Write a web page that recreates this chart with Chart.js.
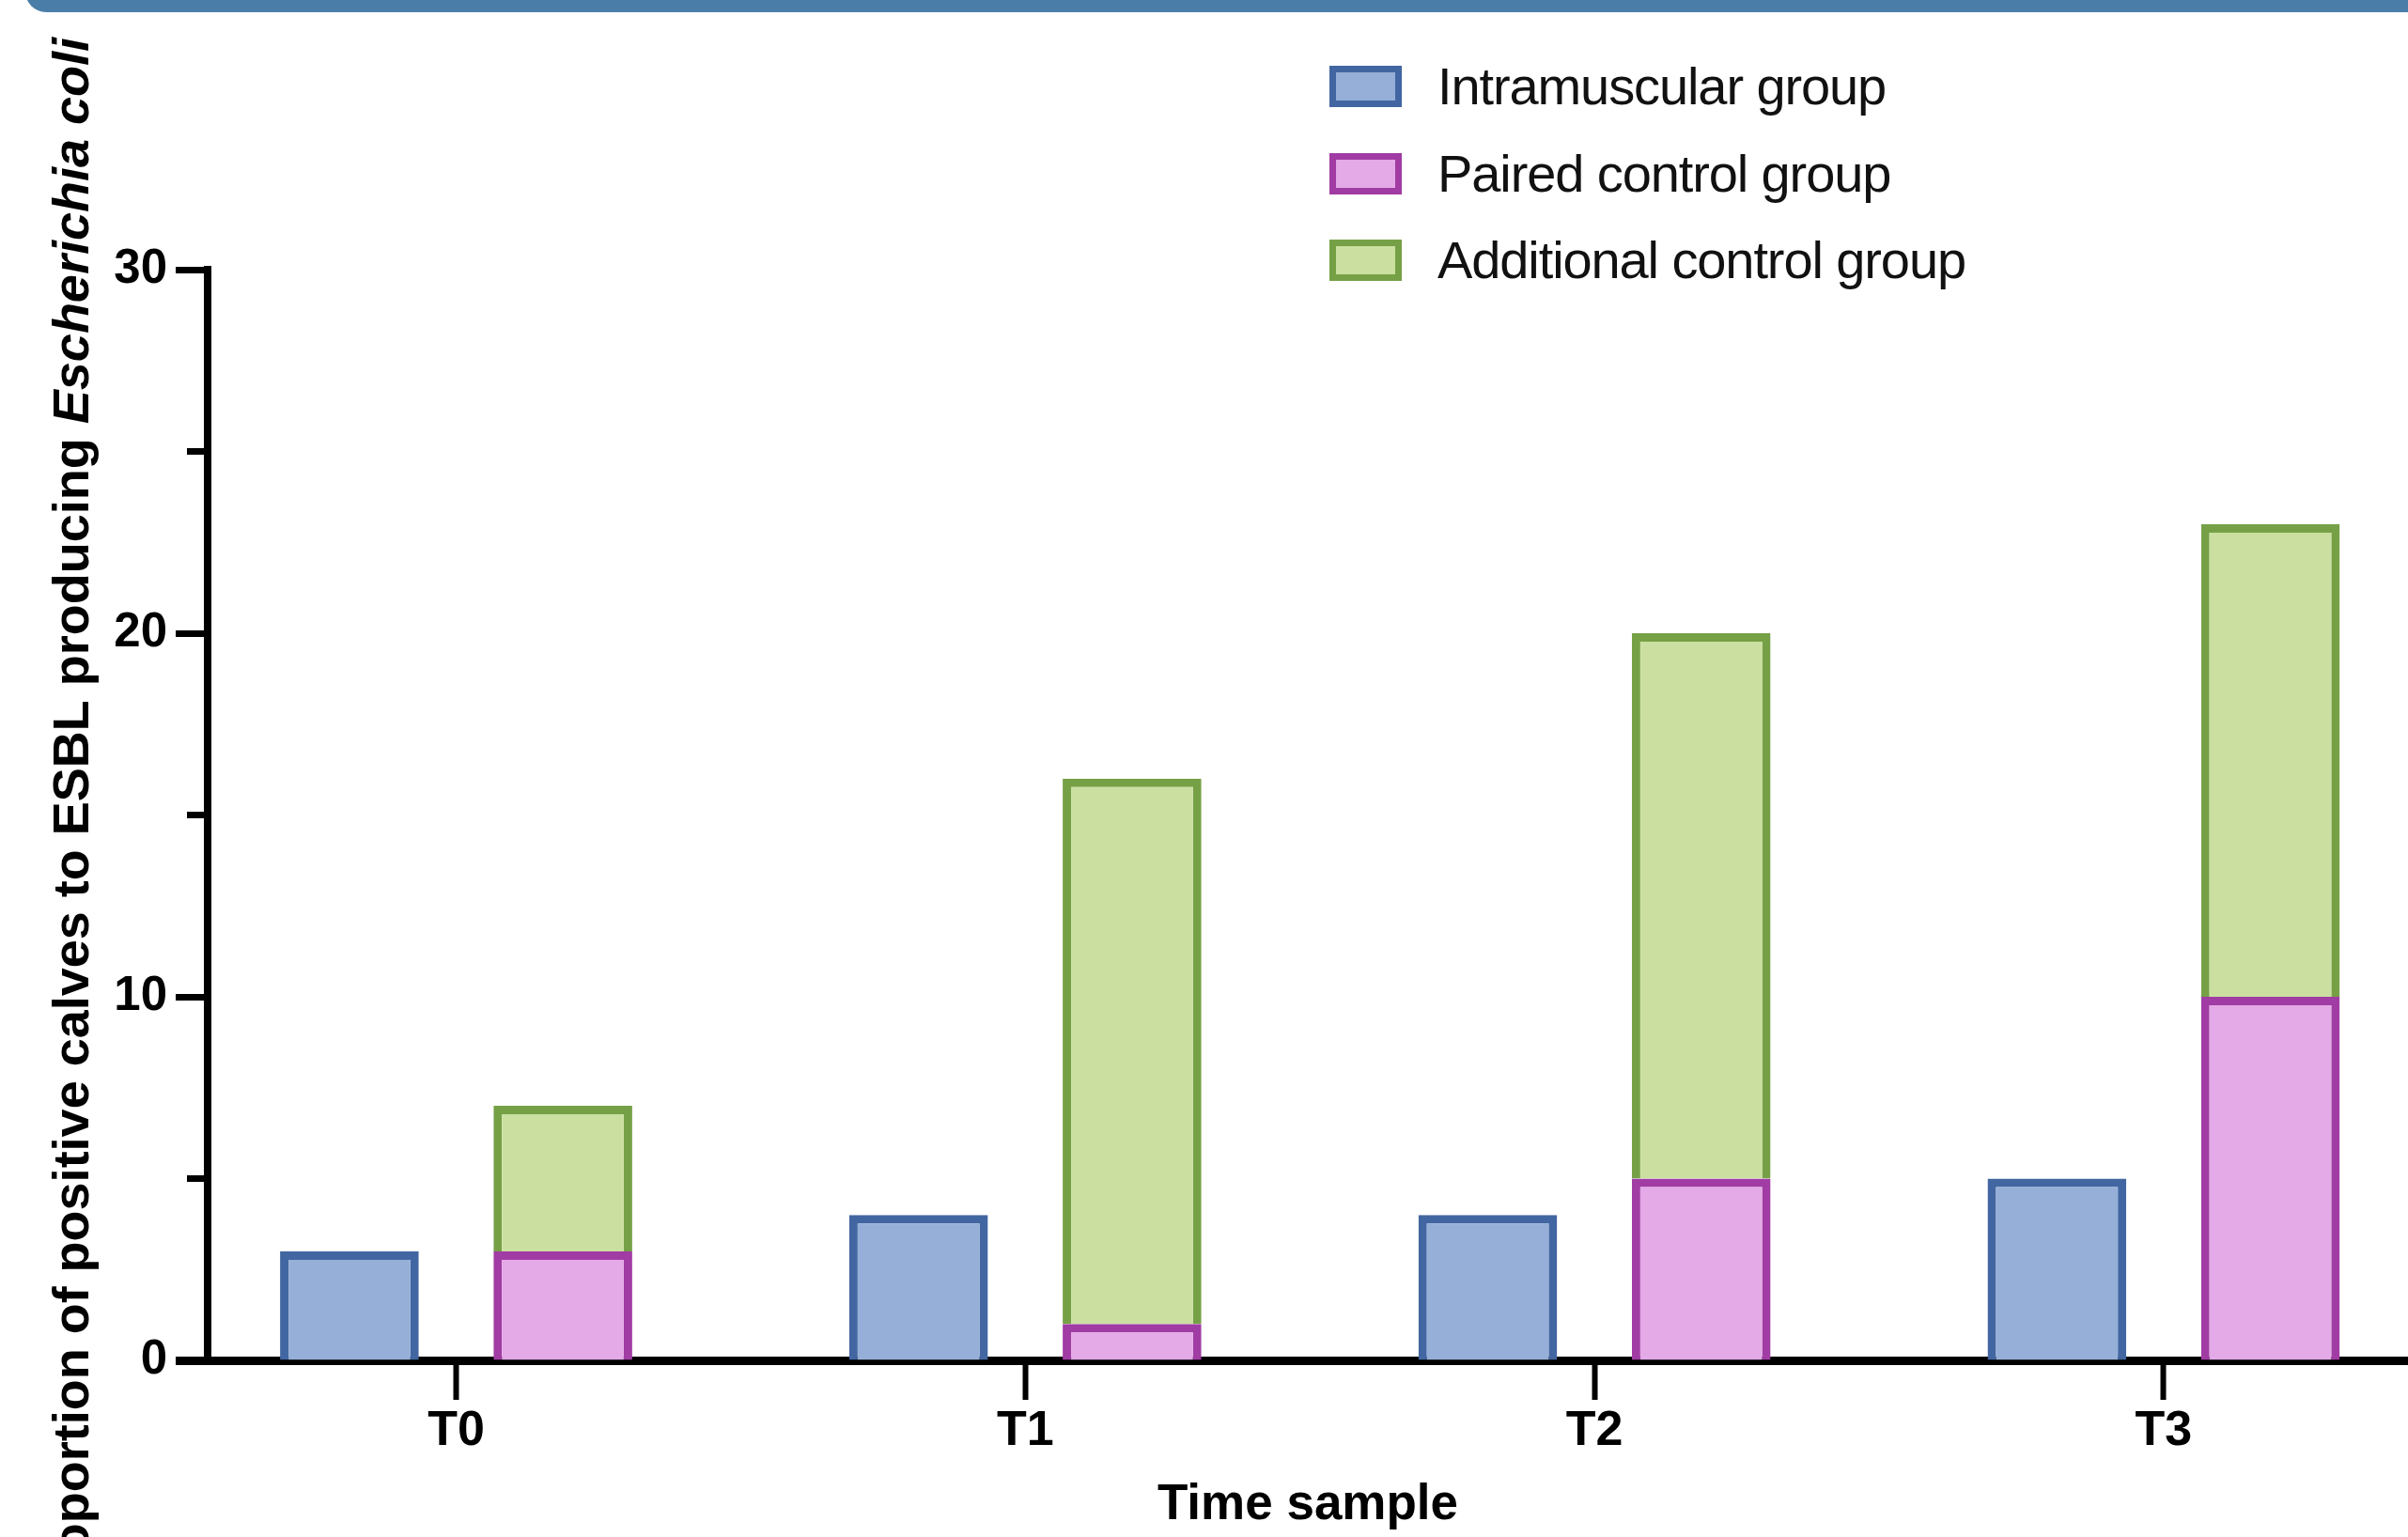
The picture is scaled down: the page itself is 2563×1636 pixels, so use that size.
<!DOCTYPE html>
<html>
<head>
<meta charset="utf-8">
<script src="https://cdn.jsdelivr.net/npm/chart.js@4.4.1/dist/chart.umd.min.js"></script>
<style>
  html, body { margin: 0; padding: 0; background: #fff; overflow: hidden; }
  #wrap { position: relative; width: 2563px; height: 1636px; }
  #band { position: absolute; left: 27px; top: -40px; width: 2600px; height: 53px; background: #4a7ea8; border-radius: 22px; }
  #legend { position: absolute; left: 1415px; top: 70px; font-family: "Liberation Sans", Arial, sans-serif; }
  .item { position: absolute; left: 0; height: 44px; white-space: nowrap; }
  .box { position: absolute; left: 0; top: 0; width: 77px; height: 44px; box-sizing: border-box; border: 7px solid; }
  .lbl { position: absolute; left: 115px; top: 0; font-size: 56px; line-height: 44px; letter-spacing: -1.1px; color: #111; }
</style>
</head>
<body>
<div id="wrap">
  <canvas id="myChart"></canvas>
  <div id="band"></div>
  <div id="legend"></div>
</div>
<script>
var categories = ['T0', 'T1', 'T2', 'T3'];
var intramuscular = [3, 4, 4, 5];
var pairedControl = [3, 1, 5, 10];
var additionalControl = [4, 15, 15, 13]; // stacked on top of the paired group
var yTickLabels = [0, 10, 20, 30];
var groupNames = ['Intramuscular group', 'Paired control group', 'Additional control group'];

var fills = ['#95afd8', '#e4a9e7', '#cbe0a0'];
var strokes = ['#4266a1', '#a03ca3', '#76a046'];
var font = '"Liberation Sans", Arial, sans-serif';

// x range chosen so the y axis sits left of T0 and the plot runs off the right edge
var xMin = -0.4366, xMax = 3.4293;

function toPoints(arr) {
  return arr.map(function (v, i) { return { x: i, y: v }; });
}

var yTitleParts = [
  { text: 'Proportion of positive calves to ESBL producing ', style: 'bold' },
  { text: 'Escherichia coli', style: 'italic bold' }
];

var yTitlePlugin = {
  id: 'yTitle',
  afterDraw: function (chart) {
    var c = chart.ctx;
    c.save();
    var total = 0;
    yTitleParts.forEach(function (p) {
      c.font = p.style + ' 54px ' + font;
      p.w = c.measureText(p.text).width;
      total += p.w;
    });
    c.translate(94, 40 + total);
    c.rotate(-Math.PI / 2);
    c.fillStyle = '#000';
    c.textBaseline = 'alphabetic';
    var x = 0;
    yTitleParts.forEach(function (p) {
      c.font = p.style + ' 54px ' + font;
      c.fillText(p.text, x, 0);
      x += p.w;
    });
    c.restore();
  }
};

var ctx = document.getElementById('myChart').getContext('2d');
var myChart = new Chart(ctx, {
  type: 'bar',
  data: {
    datasets: [{
      label: groupNames[0],
      data: toPoints(intramuscular),
      stack: 'a',
      backgroundColor: fills[0],
      borderColor: strokes[0],
      borderWidth: 9
    }, {
      label: groupNames[1],
      data: toPoints(pairedControl),
      stack: 'b',
      backgroundColor: fills[1],
      borderColor: strokes[1],
      borderWidth: 9
    }, {
      label: groupNames[2],
      data: toPoints(additionalControl),
      stack: 'b',
      backgroundColor: fills[2],
      borderColor: strokes[2],
      borderWidth: 9
    }]
  },
  options: {
    responsive: true,
    maintainAspectRatio: false,
    animation: false,
    layout: { padding: { top: 287, left: 0, right: 0, bottom: 0 } },
    datasets: { bar: { barPercentage: 0.65, categoryPercentage: 0.75 } },
    plugins: { legend: { display: false }, tooltip: { enabled: false } },
    scales: {
      x: {
        type: 'linear',
        min: xMin,
        max: xMax,
        offset: false,
        z: 1,
        afterFit: function (s) { s.height = 188; },
        grid: { offset: false, drawOnChartArea: false, drawTicks: true, tickLength: 42, tickWidth: 6, color: '#000', tickColor: '#000' },
        border: { display: true, color: '#000', width: 9 },
        ticks: {
          stepSize: 1,
          includeBounds: false,
          autoSkip: false,
          maxRotation: 0,
          padding: 2,
          color: '#000',
          font: { family: font, size: 52, weight: 'bold' },
          callback: function (v) { return categories[v] || ''; }
        },
        title: {
          display: true,
          text: 'Time sample',
          color: '#000',
          font: { family: font, size: 53, weight: 'bold' },
          padding: { top: 0, bottom: 2 }
        }
      },
      y: {
        stacked: true,
        min: 0,
        max: 30,
        z: 1,
        afterFit: function (s) { s.width = 221; },
        grid: {
          drawOnChartArea: false,
          drawTicks: true,
          tickLength: 34,
          color: '#000',
          tickWidth: function (c) { return c.tick && c.tick.value === 0 ? 9 : 7; },
          tickColor: function (c) { return c.tick && yTickLabels.indexOf(c.tick.value) >= 0 ? '#000' : 'rgba(0,0,0,0)'; }
        },
        border: { display: true, color: '#000', width: 8 },
        ticks: {
          stepSize: 5,
          padding: 9,
          color: '#000',
          font: { family: font, size: 51, weight: 'bold' },
          callback: function (v) { return yTickLabels.indexOf(v) >= 0 ? String(v) : ''; }
        }
      },
      yMinor: {
        axis: 'y',
        position: { x: xMin },
        min: 0,
        max: 30,
        z: 1,
        grid: {
          drawOnChartArea: false,
          drawTicks: true,
          tickLength: 22,
          tickWidth: 7,
          color: '#000',
          tickColor: function (c) { return c.tick && yTickLabels.indexOf(c.tick.value) < 0 ? '#000' : 'rgba(0,0,0,0)'; }
        },
        border: { display: false },
        ticks: { stepSize: 5, display: false }
      }
    }
  },
  plugins: [yTitlePlugin]
});

// legend built from the same dataset labels and colours
var legendEl = document.getElementById('legend');
groupNames.forEach(function (name, i) {
  var item = document.createElement('div');
  item.className = 'item';
  item.style.top = (i * 92.5) + 'px';
  var box = document.createElement('div');
  box.className = 'box';
  box.style.background = fills[i];
  box.style.borderColor = strokes[i];
  var lbl = document.createElement('div');
  lbl.className = 'lbl';
  lbl.textContent = name;
  item.appendChild(box);
  item.appendChild(lbl);
  legendEl.appendChild(item);
});
</script>
</body>
</html>
